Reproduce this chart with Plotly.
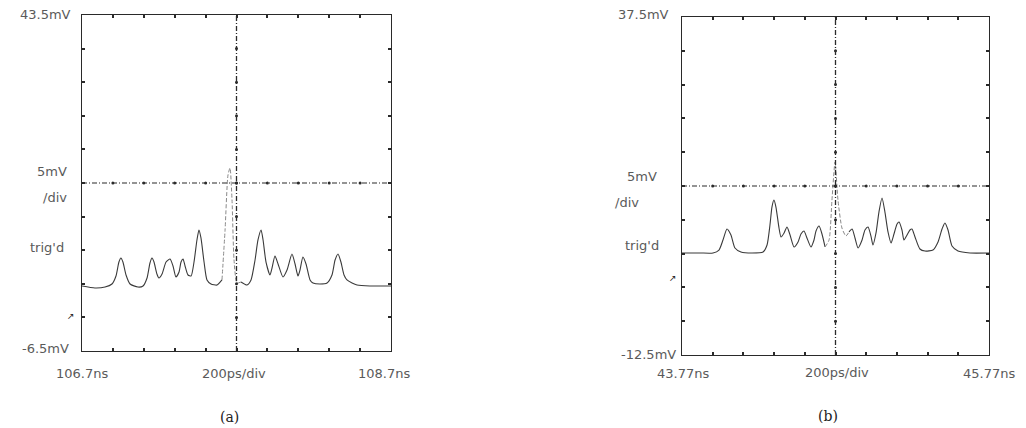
import plotly.graph_objects as go

# ---------------- data ----------------
# Panel (a): time in ns, amplitude in mV
time_a = [106.700, 106.784, 106.849, 106.894, 106.920, 106.939, 106.952, 106.965, 106.985, 107.011,
          107.062, 107.095, 107.121, 107.140, 107.153, 107.166, 107.185, 107.198, 107.218, 107.244,
          107.270, 107.289, 107.308, 107.328, 107.341, 107.354, 107.367, 107.386, 107.406, 107.425,
          107.444, 107.457, 107.470, 107.490, 107.509, 107.535, 107.574, 107.606, 107.626, 107.645,
          107.658, 107.671, 107.684, 107.703, 107.729, 107.768, 107.794, 107.820, 107.839, 107.859,
          107.872, 107.891, 107.917, 107.930, 107.949, 107.969, 108.001, 108.027, 108.059, 108.079,
          108.098, 108.111, 108.130, 108.150, 108.176, 108.195, 108.240, 108.286, 108.318, 108.338,
          108.357, 108.376, 108.396, 108.415, 108.448, 108.480, 108.564, 108.629, 108.700]
volt_a = [3.17, 2.88, 3.02, 3.47, 4.66, 6.74, 7.34, 6.74, 4.81, 3.47,
          3.02, 3.17, 4.36, 6.60, 7.34, 6.74, 4.96, 4.36, 4.96, 6.74,
          7.19, 6.15, 4.51, 5.26, 6.74, 7.19, 6.15, 4.81, 4.66, 6.74,
          10.02, 11.51, 10.32, 6.74, 4.07, 3.47, 3.32, 4.07, 11.51, 19.69,
          20.73, 15.97, 7.04, 3.62, 3.77, 3.32, 4.07, 7.04, 10.02, 11.51,
          10.02, 6.74, 4.81, 5.85, 7.64, 6.45, 4.51, 5.55, 7.93, 6.45,
          4.66, 5.55, 7.49, 6.45, 4.07, 3.62, 3.47, 3.62, 4.81, 7.04,
          7.93, 6.74, 4.81, 4.07, 3.62, 3.32, 3.17, 3.17, 3.17]

# Panel (b)
time_b = [43.770, 43.887, 43.972, 44.011, 44.037, 44.063, 44.089, 44.115, 44.154, 44.226,
          44.298, 44.324, 44.343, 44.356, 44.369, 44.382, 44.402, 44.415, 44.435, 44.454,
          44.474, 44.500, 44.526, 44.545, 44.565, 44.584, 44.610, 44.630, 44.643, 44.663,
          44.682, 44.702, 44.728, 44.747, 44.767, 44.786, 44.812, 44.838, 44.858, 44.878,
          44.897, 44.917, 44.943, 44.962, 44.982, 45.001, 45.014, 45.034, 45.053, 45.073,
          45.092, 45.112, 45.132, 45.151, 45.171, 45.184, 45.203, 45.216, 45.236, 45.255,
          45.268, 45.288, 45.320, 45.353, 45.405, 45.438, 45.464, 45.483, 45.503, 45.529,
          45.568, 45.646, 45.770]
volt_b = [2.59, 2.59, 2.59, 3.03, 4.51, 6.14, 5.25, 3.33, 2.74, 2.59,
          2.74, 3.77, 6.73, 9.39, 10.43, 9.39, 6.29, 4.96, 5.55, 6.44,
          5.25, 3.48, 4.22, 5.40, 5.84, 4.81, 3.48, 4.51, 5.84, 6.58,
          5.40, 3.48, 4.51, 10.43, 16.05, 10.43, 6.29, 5.10, 5.70, 6.14,
          4.81, 3.33, 4.51, 5.99, 6.44, 5.10, 3.77, 5.55, 8.65, 10.73,
          8.65, 5.70, 4.07, 5.40, 6.88, 7.17, 5.99, 4.51, 5.25, 5.99,
          6.14, 4.96, 3.18, 2.88, 3.03, 4.22, 6.14, 7.03, 5.99, 3.62,
          2.88, 2.59, 2.59]

# index span of the faint (fast) central pulse in each trace
faint_a = (37, 44)
faint_b = (31, 38)

# screen settings
range_a_x = [106.7, 108.7]
range_a_y = [-6.5, 43.5]
range_b_x = [43.77, 45.77]
range_b_y = [-12.5, 37.5]
n_div = 10

top_a = "43.5mV"; bot_a = "-6.5mV"; left_a = "106.7ns"; right_a = "108.7ns"
top_b = "37.5mV"; bot_b = "-12.5mV"; left_b = "43.77ns"; right_b = "45.77ns"
scale_v = "5mV"; scale_v2 = "/div"; trig = "trig'd"; scale_t = "200ps/div"
cap_a = "(a)"; cap_b = "(b)"

W, H = 1026, 428
dom_a_x = [82 / W, 391 / W]
dom_a_y = [1 - 351 / H, 1 - 15 / H]
dom_b_x = [682 / W, 989 / W]
dom_b_y = [1 - 355 / H, 1 - 17 / H]

INK = "#2a2a2a"
TXT = "#5a5a5a"
FONT = "DejaVu Sans"

fig = go.Figure()


def add_trace(t, v, span, xr, yr):
    i0, i1 = span
    line_main = dict(color="#3a3a3a", width=1.1, shape="spline", smoothing=0.6)
    fig.add_trace(go.Scatter(x=t[:i0 + 1], y=v[:i0 + 1], mode="lines", xaxis=xr, yaxis=yr,
                             line=line_main, showlegend=False, hoverinfo="skip"))
    fig.add_trace(go.Scatter(x=t[i1:], y=v[i1:], mode="lines", xaxis=xr, yaxis=yr,
                             line=line_main, showlegend=False, hoverinfo="skip"))
    fig.add_trace(go.Scatter(x=t[i0:i1 + 1], y=v[i0:i1 + 1], mode="lines", xaxis=xr, yaxis=yr,
                             line=dict(color="#8a8a8a", width=1, dash="4px,2px", shape="spline", smoothing=0.6),
                             showlegend=False, hoverinfo="skip"))


add_trace(time_a, volt_a, faint_a, "x", "y")
add_trace(time_b, volt_b, faint_b, "x2", "y2")


def axis(rng, dom, anchor):
    step = (rng[1] - rng[0]) / n_div
    return dict(range=rng, domain=dom, anchor=anchor, showgrid=False, zeroline=False,
                showline=True, linecolor=INK, linewidth=1.2, mirror="ticks",
                ticks="inside", ticklen=3, tickwidth=2, tickcolor=INK,
                tickvals=[rng[0] + i * step for i in range(n_div + 1)],
                showticklabels=False, fixedrange=True)


shapes = []
for xr, yr, rx, ry in [("x", "y", range_a_x, range_a_y), ("x2", "y2", range_b_x, range_b_y)]:
    cx = (rx[0] + rx[1]) / 2
    cy = (ry[0] + ry[1]) / 2
    shapes.append(dict(type="line", xref=xr, yref=yr, x0=cx, x1=cx, y0=ry[0], y1=ry[1],
                       line=dict(color=INK, width=1.3, dash="5px,2px,1px,2px")))
    shapes.append(dict(type="line", xref=xr, yref=yr, x0=rx[0], x1=rx[1], y0=cy, y1=cy,
                       line=dict(color=INK, width=1.2, dash="5px,2px,1px,2px")))
    # small tick dots on the crosshair, one per division
    sx = (rx[1] - rx[0]) / n_div
    sy = (ry[1] - ry[0]) / n_div
    tx = [rx[0] + i * sx for i in range(1, n_div)]
    ty = [ry[0] + i * sy for i in range(1, n_div)]
    fig.add_trace(go.Scatter(x=tx, y=[cy] * len(tx), mode="markers", xaxis=xr, yaxis=yr,
                             marker=dict(symbol="circle", size=3, color=INK),
                             showlegend=False, hoverinfo="skip"))
    fig.add_trace(go.Scatter(x=[cx] * len(ty), y=ty, mode="markers", xaxis=xr, yaxis=yr,
                             marker=dict(symbol="circle", size=3, color=INK),
                             showlegend=False, hoverinfo="skip"))

ann = []


def txt(x, y, s, anchor="right", size=13, color=TXT, fam=FONT):
    ann.append(dict(x=x / W, y=1 - y / H, xref="paper", yref="paper", text=s, showarrow=False,
                    xanchor=anchor, yanchor="middle", font=dict(family=fam, size=size, color=color)))


# panel (a) labels
txt(73, 15, top_a)
txt(69, 172, scale_v)
txt(69, 197, scale_v2)
txt(66, 247, trig)
txt(77, 316, "↗", size=9, color="#222")
txt(71, 348, bot_a)
txt(82, 373, left_a, anchor="center")
txt(234, 373, scale_t, anchor="center")
txt(384, 373, right_a, anchor="center")
txt(229, 417, cap_a, anchor="center", size=14, color="#222", fam="DejaVu Serif")

# panel (b) labels
txt(671, 15, top_b)
txt(659, 177, scale_v)
txt(641, 202, scale_v2)
txt(661, 245, trig)
txt(679, 278, "↗", size=9, color="#222")
txt(678, 354, bot_b)
txt(683, 373, left_b, anchor="center")
txt(837, 372, scale_t, anchor="center")
txt(989, 373, right_b, anchor="center")
txt(828, 416, cap_b, anchor="center", size=14, color="#222", fam="DejaVu Serif")

fig.update_layout(
    width=W, height=H,
    margin=dict(l=0, r=0, t=0, b=0),
    paper_bgcolor="white", plot_bgcolor="white",
    showlegend=False,
    xaxis=axis(range_a_x, dom_a_x, "y"),
    yaxis=axis(range_a_y, dom_a_y, "x"),
    xaxis2=axis(range_b_x, dom_b_x, "y2"),
    yaxis2=axis(range_b_y, dom_b_y, "x2"),
    shapes=shapes,
    annotations=ann,
)

fig.write_html("out.html", config={"displayModeBar": False},
               post_script="document.body.style.margin='0';document.body.style.overflow='hidden';")
